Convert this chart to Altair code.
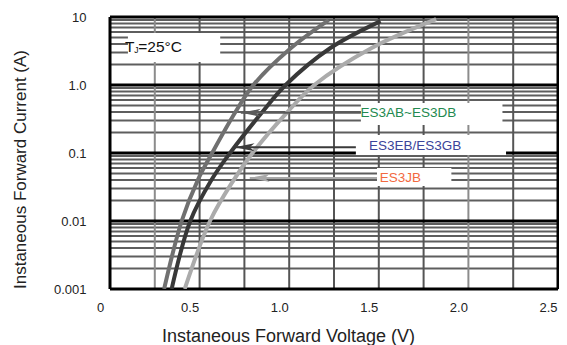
import altair as alt
import pandas as pd

# ---- curve data ----
v_ab = [0.302, 0.40, 0.49, 0.57, 0.70, 0.80, 1.01, 1.22]
i_ab = [0.001, 0.01, 0.04, 0.1, 0.4, 1.0, 3.5, 9.0]
v_eb = [0.344, 0.448, 0.566, 0.67, 0.85, 0.98, 1.23, 1.51]
i_eb = [0.001, 0.01, 0.04, 0.1, 0.4, 1.0, 3.5, 8.7]
v_jb = [0.417, 0.558, 0.69, 0.795, 0.99, 1.14, 1.46, 1.82]
i_jb = [0.001, 0.01, 0.04, 0.1, 0.4, 1.0, 3.5, 9.3]

series_names = ["ES3AB~ES3DB", "ES3EB/ES3GB", "ES3JB"]

x_ticks = [0, 0.5, 1.0, 1.5, 2.0, 2.5]
y_ticks = [0.001, 0.01, 0.1, 1, 10]

# annotation anchors (data coordinates)
label_v = [1.665, 1.703, 1.62]
label_i = [0.39, 0.127, 0.0434]
box_v1 = [1.40, 1.372, 1.49]
box_v2 = [2.19, 2.21, 1.905]
box_i1 = [0.258, 0.0935, 0.0327]
box_i2 = [0.543, 0.184, 0.060]
arrow_v = [0.73, 0.695, 0.78]
arrow_i = [0.39, 0.122, 0.043]

tj_box_v = [0.10, 0.615]
tj_box_i = [2.18, 5.82]

# ---- styles ----
curve_colors = ["#707070", "#383838", "#ababab"]
arrow_colors = ["#5a5a5a", "#3a3a3a", "#a8a8a8"]
label_colors = ["#23894f", "#3b449a", "#f2693f"]
FONT = "Liberation Sans"

xscale = alt.Scale(domain=[0, 2.5], nice=False, zero=False)
yscale = alt.Scale(type="log", domain=[0.001, 10], nice=False)

xaxis = alt.Axis(
    values=x_ticks,
    labelExpr="datum.value == 0 ? '0' : format(datum.value, '.1f')",
    ticks=False, domain=False, grid=False, labelFlush=False,
    labelOffset=-10, labelPadding=12, labelFont=FONT, labelFontSize=13,
    labelColor="#222222",
    title="Instaneous Forward Voltage (V)", titleFont=FONT, titleFontSize=18,
    titleFontWeight="normal", titleColor="#222222",
    titleX=178, titleY=52, titleAlign="center", titleBaseline="alphabetic",
)
yaxis = alt.Axis(
    values=y_ticks,
    labelExpr="datum.value < 0.005 ? '0.001' : datum.value < 0.05 ? '0.01' : datum.value < 0.5 ? '0.1' : datum.value < 5 ? '1.0' : '10'",
    ticks=False, domain=False, grid=False, labelFlush=False,
    labelPadding=24, labelFont=FONT, labelFontSize=13, labelColor="#222222",
    title="Instaneous Forward Current (A)", titleFont=FONT, titleFontSize=17,
    titleFontWeight="normal", titleColor="#222222",
    titleX=-85, titleY=152, titleAngle=270, titleAlign="center",
    titleBaseline="alphabetic",
)

X = lambda f: alt.X(f, scale=xscale, axis=xaxis)
Y = lambda f: alt.Y(f, scale=yscale, axis=yaxis)

# ---- grid ----
minor_vals = [k * 10.0 ** d for d in range(-3, 1) for k in range(2, 10)]
decade_vals = y_ticks
vert_dark = [0.5, 0.75, 1.0, 1.25, 1.5, 1.75, 2.25]
vert_light = [0.25, 2.0]
border_v = [0, 2.5]

g_minor = alt.Chart(pd.DataFrame({"I": minor_vals})).mark_rule(
    color="#5e5e5e", strokeWidth=2).encode(y=Y("I:Q"))
g_vdark = alt.Chart(pd.DataFrame({"V": vert_dark})).mark_rule(
    color="#555555", strokeWidth=2).encode(x=X("V:Q"))
g_vlight = alt.Chart(pd.DataFrame({"V": vert_light})).mark_rule(
    color="#8c8c8c", strokeWidth=2).encode(x=X("V:Q"))
g_decade = alt.Chart(pd.DataFrame({"I": decade_vals})).mark_rule(
    color="#000000", strokeWidth=3).encode(y=Y("I:Q"))
g_border = alt.Chart(pd.DataFrame({"V": border_v})).mark_rule(
    color="#000000", strokeWidth=3).encode(x=X("V:Q"))

# ---- white label boxes ----
boxes = pd.DataFrame({
    "v1": box_v1 + [tj_box_v[0]], "v2": box_v2 + [tj_box_v[1]],
    "i1": box_i1 + [tj_box_i[0]], "i2": box_i2 + [tj_box_i[1]],
})
g_boxes = alt.Chart(boxes).mark_rect(fill="white").encode(
    x=X("v1:Q"), x2="v2:Q", y=Y("i1:Q"), y2="i2:Q")

# ---- curves ----
curves = pd.concat([
    pd.DataFrame({"V": v_ab, "I": i_ab, "s": series_names[0]}),
    pd.DataFrame({"V": v_eb, "I": i_eb, "s": series_names[1]}),
    pd.DataFrame({"V": v_jb, "I": i_jb, "s": series_names[2]}),
])
g_curves = alt.Chart(curves).mark_line(
    strokeWidth=4, interpolate="catmull-rom", clip=True).encode(
    x=X("V:Q"), y=Y("I:Q"),
    color=alt.Color("s:N", scale=alt.Scale(domain=series_names, range=curve_colors), legend=None),
)

# ---- arrows ----
arrows = pd.DataFrame({"v": arrow_v, "v2": box_v1, "i": arrow_i, "c": arrow_colors})
g_arrow_lines = alt.Chart(arrows).mark_rule(strokeWidth=2).encode(
    x=X("v:Q"), x2="v2:Q", y=Y("i:Q"), color=alt.Color("c:N", scale=None))
g_arrow_heads = alt.Chart(arrows).mark_point(
    shape="M0,0L2,-0.4L1.5,0L2,0.4Z", filled=True, size=400, opacity=1).encode(
    x=X("v:Q"), y=Y("i:Q"), color=alt.Color("c:N", scale=None))

# ---- labels ----
labels = pd.DataFrame({"v": label_v, "i": label_i, "t": series_names, "c": label_colors})
g_labels = alt.Chart(labels).mark_text(
    font=FONT, fontSize=13.5, align="center", baseline="middle").encode(
    x=X("v:Q"), y=Y("i:Q"), text="t:N", color=alt.Color("c:N", scale=None))

tj_parts = ["T", "J", "=25°C"]
tj_v = [0.084, 0.135, 0.158]
tj_i = [3.06, 3.06, 3.06]
tj = pd.DataFrame({"v": tj_v, "i": tj_i, "t": tj_parts})
g_tj_main = alt.Chart(tj[tj.t != "J"]).mark_text(
    font=FONT, fontSize=15.5, align="left", baseline="alphabetic", color="#111111").encode(
    x=X("v:Q"), y=Y("i:Q"), text="t:N")
g_tj_sub = alt.Chart(tj[tj.t == "J"]).mark_text(
    font=FONT, fontSize=8.5, align="left", baseline="alphabetic", color="#111111", dy=1).encode(
    x=X("v:Q"), y=Y("i:Q"), text="t:N")

chart = alt.layer(
    g_minor, g_vlight, g_vdark, g_decade, g_border, g_boxes,
    g_curves, g_arrow_lines, g_arrow_heads, g_labels, g_tj_main, g_tj_sub,
).properties(
    width=448, height=272,
    autosize=alt.AutoSizeParams(type="none"),
    padding={"left": 102, "top": 9, "right": 1, "bottom": 58},
).configure_view(stroke=None).configure(background="white")

chart.save("out.html", embed_options={"renderer": "svg", "actions": False})
